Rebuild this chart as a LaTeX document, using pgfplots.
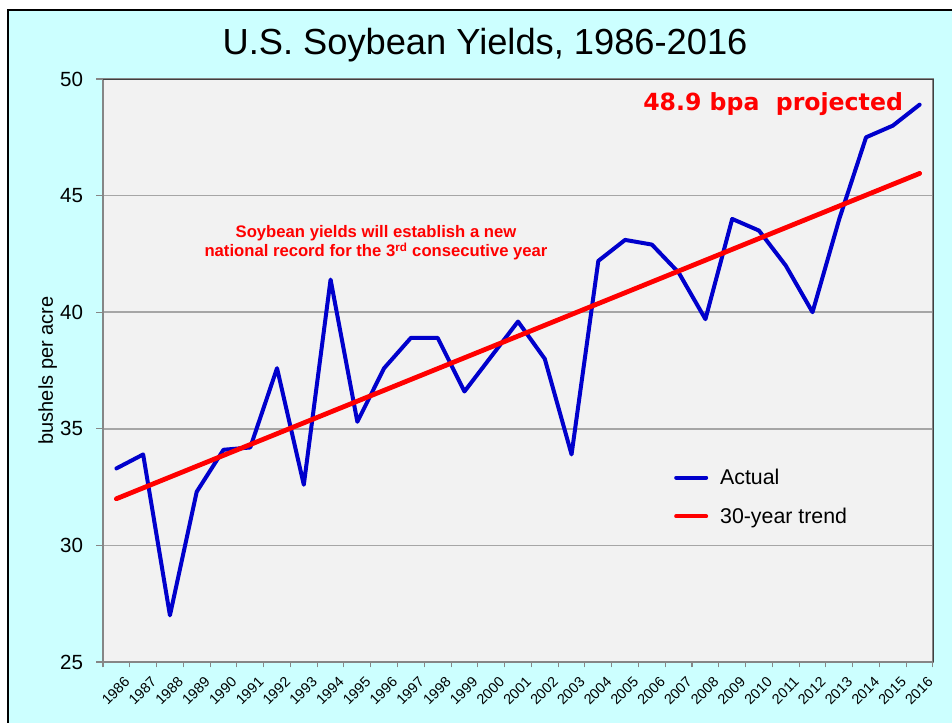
\documentclass[border=0pt]{standalone}
\usepackage{fontspec}
\setmainfont{Liberation Sans}
\newfontfamily\dvs{DejaVu Sans}
\usepackage{pgfplots}
\usepackage{pgfplotstable}
\pgfplotsset{compat=1.18}
\definecolor{panel}{HTML}{CCFFFF}
\definecolor{plotbg}{HTML}{F2F2F2}
\definecolor{actual}{HTML}{0000CC}
\definecolor{trend}{HTML}{FF0000}
\definecolor{gridc}{HTML}{A6A6A6}
\definecolor{axisc}{HTML}{868686}

\pgfplotstableread{
year yield
1986 33.3
1987 33.9
1988 27.0
1989 32.3
1990 34.1
1991 34.2
1992 37.6
1993 32.6
1994 41.4
1995 35.3
1996 37.6
1997 38.9
1998 38.9
1999 36.6
2000 38.1
2001 39.6
2002 38.0
2003 33.9
2004 42.2
2005 43.1
2006 42.9
2007 41.7
2008 39.7
2009 44.0
2010 43.5
2011 42.0
2012 40.0
2013 44.0
2014 47.5
2015 48.0
2016 48.9
}\actualdata

\pgfplotstableread{
year yield
1986 32.0
2016 45.95
}\trenddata

\begin{document}
\begin{tikzpicture}
\begin{scope}[x=0.75pt,y=-0.75pt]
\path[use as bounding box] (0,0) rectangle (952,723);
\fill[white] (0,0) rectangle (952,723);
\filldraw[fill=panel, draw=black, line width=1.9pt] (8,10) rectangle (975,745);
\node[anchor=base, inner sep=0pt, font=\fontsize{27.2}{32}\selectfont] at (485,55) {U.S. Soybean Yields, 1986-2016};
\end{scope}
\begin{axis}[
  at={(77.25pt,-496.5pt)}, anchor=south west,
  scale only axis, width=622.5pt, height=437.25pt,
  xmin=1985.5, xmax=2016.5, ymin=25, ymax=50,
  ytick={25,30,...,50},
  xtick={1986,...,2016},
  minor xtick={1985.5,1986.5,...,2016.5},
  tick align=outside, tick pos=left,
  major x tick style={draw=none},
  minor x tick style={axisc, line width=0.8pt},
  major y tick style={axisc, line width=0.8pt},
  major tick length=5pt, minor tick length=4pt,
  ymajorgrids, grid style={gridc, line width=1.3pt},
  axis background/.style={fill=plotbg},
  axis line style={axisc, line width=1.4pt},
  xticklabel style={rotate=45, anchor=north east, font=\fontsize{10.8}{12}\selectfont, inner sep=1pt, yshift=-6.5pt, xshift=1pt},
  yticklabel style={font=\fontsize{15.4}{18}\selectfont, xshift=-6.5pt},
  /pgf/number format/assume math mode=true,
  /pgf/number format/1000 sep={},
  xticklabel={\pgfmathprintnumber[fixed,precision=0,1000 sep={}]{\tick}},
  ylabel={bushels per acre},
  ylabel style={font=\fontsize{15}{18}\selectfont, yshift=-4.5pt},
  legend style={draw=none, fill=none, at={(0.683,0.341)}, anchor=north west,
    font=\fontsize{16}{19}\selectfont, row sep=12pt, column sep=7pt},
  legend cell align=left,
  legend image code/.code={\draw[#1, line width=3pt, line cap=round] (0pt,0pt) -- (22.5pt,0pt);},
  clip=false,
]
\addplot[actual, line width=3pt, line join=round, line cap=round] table[x=year,y=yield] {\actualdata};
\addlegendentry{Actual}
\addplot[trend, line width=3.6pt, line cap=round] table[x=year,y=yield] {\trenddata};
\addlegendentry{30-year trend}
\draw[black!75, line width=0.7pt] (rel axis cs:0,1) -- (rel axis cs:1,1) -- (rel axis cs:1,0);
\end{axis}
\begin{scope}[x=0.75pt,y=-0.75pt]
\node[font=\fontsize{12.5}{12.75}\selectfont\bfseries, text=trend, align=center, inner sep=0pt] at (376,243)
  {Soybean yields will establish a new\\national record for the 3\textsuperscript{rd} consecutive year};
\node[font=\dvs\bfseries\fontsize{17.7}{20}\selectfont, text=trend, anchor=base west, inner sep=0pt] at (643,111)
  {48.9 bpa\ \ projected};
\end{scope}
\end{tikzpicture}
\end{document}
